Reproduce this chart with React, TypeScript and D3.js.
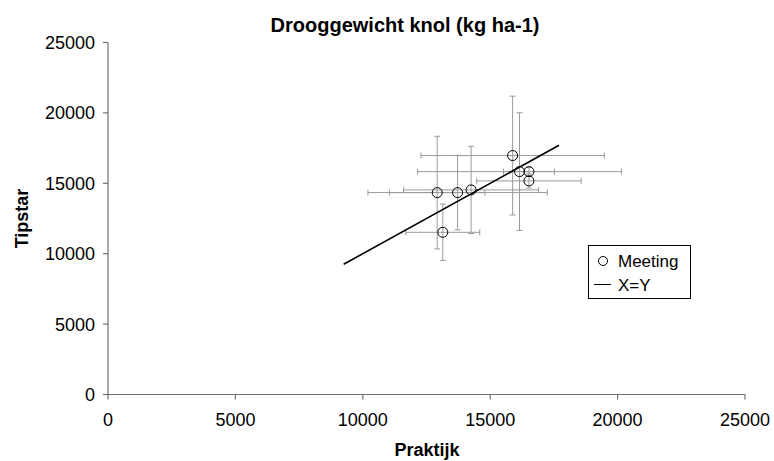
import React from "react";
import * as d3 from "d3";

const praktijk = [12920, 13720, 14250, 13140, 15880, 16150, 16520, 16520];
const tipstar = [14340, 14340, 14530, 11520, 16970, 15830, 15830, 15170];
const xErr = [1870, 3520, 2650, 1450, 3600, 4000, 1000, 2050];
const yErr = [4000, 2650, 3100, 2000, 4220, 4180, 300, 500];
const lineXY = [9250, 17700];
const ticks = [0, 5000, 10000, 15000, 20000, 25000];

const W = 774;
const H = 461;
const font = "Liberation Sans, Arial, sans-serif";

export default function App() {
  const x = d3.scaleLinear().domain([0, 25000]).range([108, 745]);
  const y = d3.scaleLinear().domain([0, 25000]).range([394.5, 42.5]);
  const axisColor = "#707070";
  const errColor = "#9a9a9a";
  const cap = 3;
  const line = d3.line<number>().x((d) => x(d)).y((d) => y(d));

  return (
    <div style={{ position: "absolute", left: 0, top: 0 }}>
      <svg width={W} height={H} style={{ display: "block", background: "#fff" }} fontFamily={font}>
        <text x={405} y={32} textAnchor="middle" fontSize={20} fontWeight="bold">
          Drooggewicht knol (kg ha-1)
        </text>
        {/* axes */}
        <line x1={x(0)} x2={x(0)} y1={y(25000)} y2={y(0)} stroke={axisColor} strokeWidth={1.2} />
        <line x1={x(0)} x2={x(25000)} y1={y(0)} y2={y(0)} stroke={axisColor} strokeWidth={1.2} />
        {ticks.map((t) => (
          <g key={"y" + t}>
            <line x1={x(0) - 5} x2={x(0)} y1={y(t)} y2={y(t)} stroke={axisColor} strokeWidth={1.2} />
            <text x={x(0) - 13} y={y(t)} dy="0.36em" textAnchor="end" fontSize={18}>
              {t}
            </text>
          </g>
        ))}
        {ticks.map((t) => (
          <g key={"x" + t}>
            <line x1={x(t)} x2={x(t)} y1={y(0)} y2={y(0) + 5} stroke={axisColor} strokeWidth={1.2} />
            <text x={x(t)} y={y(0) + 31} textAnchor="middle" fontSize={18}>
              {t}
            </text>
          </g>
        ))}
        <text x={427} y={456} textAnchor="middle" fontSize={18} fontWeight="bold">
          Praktijk
        </text>
        <text
          transform={`translate(28,${(y(0) + y(25000)) / 2}) rotate(-90)`}
          textAnchor="middle"
          fontSize={18}
          fontWeight="bold"
        >
          Tipstar
        </text>
        {/* error bars */}
        {praktijk.map((px, i) => {
          const cx = x(px);
          const cy = y(tipstar[i]);
          const x0 = x(px - xErr[i]);
          const x1 = x(px + xErr[i]);
          const y0 = y(tipstar[i] - yErr[i]);
          const y1 = y(tipstar[i] + yErr[i]);
          return (
            <g key={"e" + i} stroke={errColor} strokeWidth={1}>
              <line x1={x0} x2={x1} y1={cy} y2={cy} />
              <line x1={x0} x2={x0} y1={cy - cap} y2={cy + cap} />
              <line x1={x1} x2={x1} y1={cy - cap} y2={cy + cap} />
              <line x1={cx} x2={cx} y1={y0} y2={y1} />
              <line x1={cx - cap} x2={cx + cap} y1={y0} y2={y0} />
              <line x1={cx - cap} x2={cx + cap} y1={y1} y2={y1} />
            </g>
          );
        })}
        {/* X=Y line */}
        <path d={line(lineXY) || ""} stroke="#000" strokeWidth={1.6} fill="none" />
        {/* points */}
        {praktijk.map((px, i) => (
          <circle key={"p" + i} cx={x(px)} cy={y(tipstar[i])} r={5} fill="none" stroke="#000" strokeWidth={1} />
        ))}
        {/* legend */}
        <rect x={588.5} y={245.5} width={102} height={53} fill="#fff" stroke="#000" strokeWidth={1} />
        <circle cx={603} cy={261} r={4.5} fill="none" stroke="#000" strokeWidth={1} />
        <text x={618} y={267} fontSize={17}>
          Meeting
        </text>
        <line x1={594} x2={611} y1={284.5} y2={284.5} stroke="#000" strokeWidth={1} />
        <text x={618} y={291} fontSize={17}>
          X=Y
        </text>
      </svg>
    </div>
  );
}
